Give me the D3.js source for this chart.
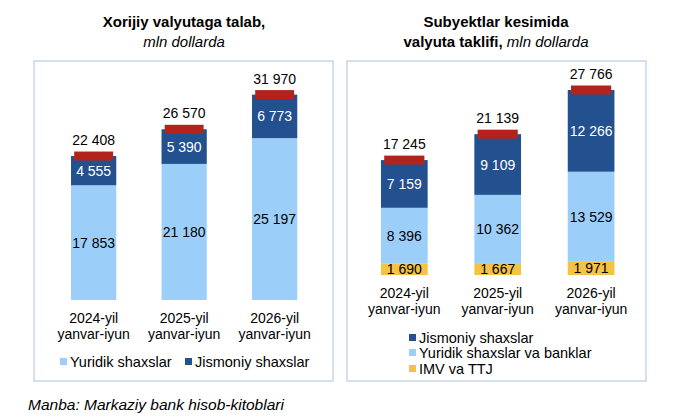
<!DOCTYPE html>
<html>
<head>
<meta charset="utf-8">
<script src="https://cdn.jsdelivr.net/npm/d3@7"></script>
<style>
body { margin:0; background:#fff; }
text { font-family: "Liberation Sans", Arial, sans-serif; font-size:14px; fill:#000; }
</style>
</head>
<body>
<div id="chart"></div>
<script>
// data
var categories = ["2024-yil|yanvar-iyun", "2025-yil|yanvar-iyun", "2026-yil|yanvar-iyun"];

var talabYuridik = [17853, 21180, 25197];
var talabJismoniy = [4555, 5390, 6773];
var talabJami = [22408, 26570, 31970];

var taklifImv = [1690, 1667, 1971];
var taklifYuridik = [8396, 10362, 13529];
var taklifJismoniy = [7159, 9109, 12266];
var taklifJami = [17245, 21139, 27766];

var lightBlue = "#9bcffa", darkBlue = "#23508f", red = "#b3231c", yellow = "#f5c344", frame = "#c8d5e8";

var fmt = function(v){ return d3.format(",")(v).replace(/,/g, " "); };

var svg = d3.select("#chart").append("svg")
    .attr("width", 680).attr("height", 419);

function panel(opt){
    svg.append("rect")
        .attr("x", opt.box[0]).attr("y", opt.box[1])
        .attr("width", opt.box[2]).attr("height", opt.box[3])
        .style("fill", "none").style("stroke", frame).style("stroke-width", 1.5);

    var x = d3.scaleBand().domain(d3.range(categories.length))
        .range(opt.xr).paddingInner(0.5).paddingOuter(0.25);
    var y = d3.scaleLinear().domain([0, opt.max]).range(opt.yr);

    var g = svg.append("g");
    categories.forEach(function(c, i){
        var base = 0;
        opt.series.forEach(function(s){
            var v = s.values[i];
            g.append("rect")
                .attr("x", x(i)).attr("width", x.bandwidth())
                .attr("y", y(base + v)).attr("height", y(base) - y(base + v))
                .style("fill", s.color);
            g.append("text")
                .attr("x", x(i) + x.bandwidth()/2)
                .attr("y", (y(base) + y(base + v))/2 + 5)
                .attr("text-anchor", "middle")
                .style("fill", s.textColor)
                .text(fmt(v));
            base += v;
        });
        var cw = x.bandwidth()*0.86;
        g.append("rect")
            .attr("x", x(i) + (x.bandwidth()-cw)/2).attr("width", cw)
            .attr("y", y(opt.totals[i]) - 4.5).attr("height", 9)
            .style("fill", red);
        g.append("text")
            .attr("x", x(i) + x.bandwidth()/2)
            .attr("y", y(opt.totals[i]) - 11)
            .attr("text-anchor", "middle")
            .text(fmt(opt.totals[i]));

        c.split("|").forEach(function(line, k){
            g.append("text")
                .attr("x", x(i) + x.bandwidth()/2)
                .attr("y", opt.labelY + k*16)
                .attr("text-anchor", "middle")
                .text(line);
        });
    });
}

panel({
    box: [34, 61, 299, 320],
    xr: [48.4, 319.9], yr: [300, 94.6], max: 31970,
    totals: talabJami, labelY: 323,
    series: [
        {values: talabYuridik, color: lightBlue, textColor: "#000"},
        {values: talabJismoniy, color: darkBlue, textColor: "#fff"}
    ]
});

panel({
    box: [347, 61, 299, 320],
    xr: [357.6, 637.8], yr: [275, 90], max: 27766,
    totals: taklifJami, labelY: 298,
    series: [
        {values: taklifImv, color: yellow, textColor: "#000"},
        {values: taklifYuridik, color: lightBlue, textColor: "#000"},
        {values: taklifJismoniy, color: darkBlue, textColor: "#fff"}
    ]
});

// legends
var legLeft = [
    {name: "Yuridik shaxslar", color: lightBlue, x: 60, y: 362},
    {name: "Jismoniy shaxslar", color: darkBlue, x: 185, y: 362}
];
var legRight = [
    {name: "Jismoniy shaxslar", color: darkBlue, x: 409, y: 338},
    {name: "Yuridik shaxslar va banklar", color: lightBlue, x: 409, y: 353},
    {name: "IMV va TTJ", color: yellow, x: 409, y: 369}
];
legLeft.concat(legRight).forEach(function(d){
    svg.append("rect").attr("x", d.x).attr("y", d.y - 4).attr("width", 7).attr("height", 7)
        .style("fill", d.color);
    svg.append("text").attr("x", d.x + 10).attr("y", d.y + 5).style("font-size", "14.5px").text(d.name);
});

// titles
svg.append("text").attr("x", 184).attr("y", 27).attr("text-anchor", "middle")
    .style("font-weight", "bold").style("font-size", "15px").text("Xorijiy valyutaga talab,");
svg.append("text").attr("x", 184).attr("y", 47).attr("text-anchor", "middle")
    .style("font-style", "italic").style("font-size", "15px").text("mln dollarda");

svg.append("text").attr("x", 496).attr("y", 27).attr("text-anchor", "middle")
    .style("font-weight", "bold").style("font-size", "15px").text("Subyektlar kesimida");
var t2 = svg.append("text").attr("x", 496).attr("y", 47).attr("text-anchor", "middle")
    .style("font-size", "15px");
t2.append("tspan").style("font-weight", "bold").text("valyuta taklifi, ");
t2.append("tspan").style("font-style", "italic").text("mln dollarda");

svg.append("text").attr("x", 28).attr("y", 410).style("font-style", "italic").style("font-size", "15.5px")
    .text("Manba: Markaziy bank hisob-kitoblari");
</script>
</body>
</html>
